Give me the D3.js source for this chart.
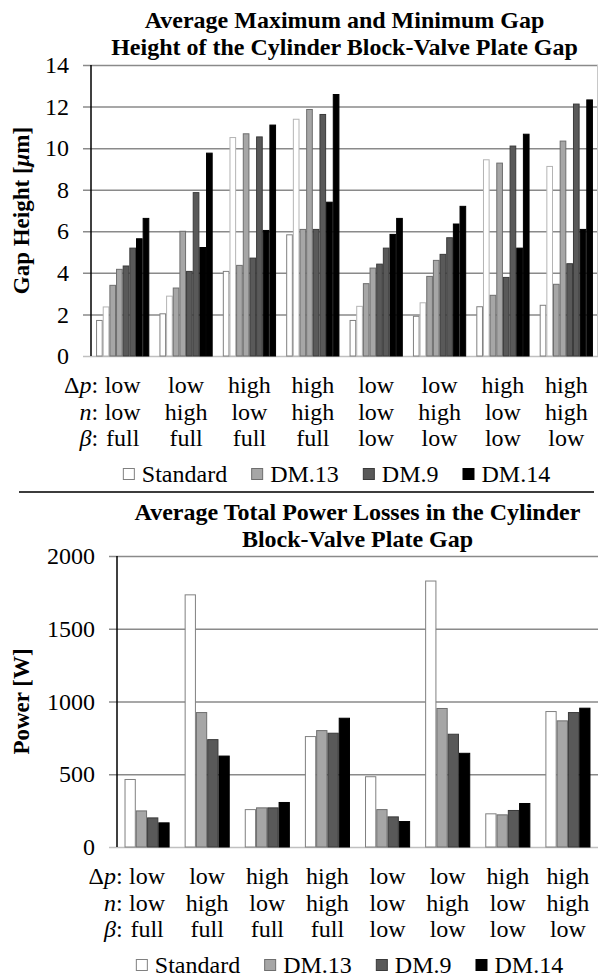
<!DOCTYPE html>
<html>
<head>
<meta charset="utf-8">
<script src="https://cdn.jsdelivr.net/npm/d3@7"></script>
<style>
  body { margin: 0; background: #fff; }
</style>
</head>
<body>
<svg id="chart" width="599" height="978" font-family="Liberation Serif, DejaVu Serif, Times New Roman, serif"></svg>
<script>
// categories
var groups = ["c1", "c2", "c3", "c4", "c5", "c6", "c7", "c8"];
var dpLabels = ["low", "low", "high", "high", "low", "low", "high", "high"];
var nLabels = ["low", "high", "low", "high", "low", "high", "low", "high"];
var betaLabels = ["full", "full", "full", "full", "low", "low", "low", "low"];
var seriesNames = ["Standard", "DM.13", "DM.9", "DM.14"];

// tick labels
var gapTicks = [0, 2, 4, 6, 8, 10, 12, 14];
var powerTicks = [0, 500, 1000, 1500, 2000];

// gap height [um], min and max per design
var stdMin  = [1.71, 2.03, 4.07, 5.83, 1.71, 1.91, 2.37, 2.44];
var stdMax  = [2.36, 2.88, 10.51, 11.39, 2.39, 2.56, 9.44, 9.12];
var dm13Min = [3.40, 3.27, 4.36, 6.09, 3.48, 3.83, 2.92, 3.45];
var dm13Max = [4.17, 6.00, 10.69, 11.86, 4.23, 4.60, 9.28, 10.34];
var dm9Min  = [4.33, 4.07, 4.71, 6.09, 4.42, 4.89, 3.78, 4.44];
var dm9Max  = [5.19, 7.86, 10.54, 11.62, 5.19, 5.69, 10.10, 12.12];
var dm14Min = [5.64, 5.22, 6.04, 7.40, 5.85, 6.35, 5.19, 6.09];
var dm14Max = [6.62, 9.76, 11.11, 12.58, 6.62, 7.20, 10.67, 12.32];

// power losses [W]
var powStd  = [464, 1733, 257, 759, 483, 1828, 228, 931];
var powDm13 = [248, 924, 269, 800, 257, 952, 221, 867];
var powDm9  = [200, 738, 269, 782, 207, 775, 251, 924];
var powDm14 = [166, 625, 306, 885, 175, 644, 299, 954];

var fills = ["#ffffff", "#a6a6a6", "#595959", "#000000"];
var strokes = ["#808080", "#6e6e6e", "#3a3a3a", "#000000"];
var serif = "Liberation Serif, DejaVu Serif, Times New Roman, serif";

var svg = d3.select("#chart");

function drawChart(cfg) {
    var g = svg.append("g");

    var x0 = d3.scaleBand().domain(groups).range([cfg.left, cfg.right])
        .paddingInner(cfg.pad).paddingOuter(cfg.pad / 2);
    var x1 = d3.scaleBand().domain(d3.range(cfg.series.length)).range([0, x0.bandwidth()]);
    var y = d3.scaleLinear().domain(cfg.domain).range([cfg.bottom, cfg.top]);

    // gridlines + tick labels
    var axis = g.append("g")
        .attr("transform", "translate(" + cfg.left + ",0)")
        .call(d3.axisLeft(y).tickValues(cfg.ticks).tickFormat(d3.format("d"))
            .tickSize(-(cfg.right - cfg.left)).tickPadding(22).tickSizeOuter(0));
    axis.attr("font-family", serif).attr("font-size", 24);
    axis.select(".domain").remove();
    axis.selectAll(".tick line")
        .attr("x1", -8)
        .attr("stroke", function(d) { return d == 0 ? "#c0c0c0" : "#8a8a8a"; })
        .attr("stroke-width", 1.5);
    axis.selectAll(".tick text").attr("fill", "#000");

    if (cfg.frame) {
        g.append("line")
            .attr("x1", cfg.right - 0.5).attr("x2", cfg.right - 0.5)
            .attr("y1", cfg.top).attr("y2", cfg.bottom)
            .attr("stroke", "#c8c8c8");
    }

    // bars
    g.append("g")
        .selectAll("g")
        .data(groups)
        .enter()
        .append("g")
        .attr("transform", function(d) { return "translate(" + x0(d) + ",0)"; })
        .selectAll("rect")
        .data(function(d, i) {
            return cfg.series.map(function(s, k) { return { k: k, v: s[i] }; });
        })
        .enter()
        .append("rect")
        .attr("x", function(d) { return x1(d.k) + 0.5; })
        .attr("y", function(d) { return y(d.v); })
        .attr("width", x1.bandwidth() - 1)
        .attr("height", function(d) { return cfg.bottom - y(d.v); })
        .attr("fill", function(d) { return fills[cfg.colorOf(d.k)]; })
        .attr("stroke", function(d) { return cfg.strokeOf(d.k); })
        .attr("stroke-width", 1);

    // y axis line
    g.append("line")
        .attr("x1", cfg.left).attr("x2", cfg.left)
        .attr("y1", cfg.top).attr("y2", cfg.bottom)
        .attr("stroke", "#000").attr("stroke-width", 1.5);

    // title
    var cx = (cfg.left + cfg.right) / 2;
    cfg.title.forEach(function(t, i) {
        g.append("text")
            .attr("x", cx).attr("y", cfg.titleY + i * 27)
            .attr("text-anchor", "middle")
            .attr("font-size", 24).attr("font-weight", "bold")
            .text(t);
    });

    // y title
    var yt = g.append("text")
        .attr("transform", "translate(29," + ((cfg.top + cfg.bottom) / 2) + ") rotate(-90)")
        .attr("text-anchor", "middle")
        .attr("font-size", 23).attr("font-weight", "bold");
    cfg.yTitle(yt);

    // category table
    var rows = [
        { pre: [["\u0394", false], ["p", true], [":", false]], labels: dpLabels },
        { pre: [["n", true], [":", false]], labels: nLabels },
        { pre: [["\u03b2", true], [":", false]], labels: betaLabels }
    ];
    var firstCenter = x0(groups[0]) + x0.bandwidth() / 2;
    rows.forEach(function(r, ri) {
        var yy = cfg.bottom + 37 + ri * 26.5;
        var pre = g.append("text")
            .attr("x", firstCenter - 24.5).attr("y", yy)
            .attr("text-anchor", "end")
            .attr("font-size", 24);
        r.pre.forEach(function(p) {
            pre.append("tspan").attr("font-style", p[1] ? "italic" : "normal").text(p[0]);
        });
        g.selectAll(null)
            .data(r.labels)
            .enter()
            .append("text")
            .attr("x", function(d, i) { return x0(groups[i]) + x0.bandwidth() / 2; })
            .attr("y", yy)
            .attr("text-anchor", "middle")
            .attr("font-size", 24)
            .text(function(d) { return d; });
    });

    // legend
    var ly = cfg.bottom + 126;
    var leg = g.append("g");
    var lx = 0;
    seriesNames.forEach(function(name, i) {
        leg.append("rect")
            .attr("x", lx + 0.5).attr("y", ly - 13.5)
            .attr("width", 11).attr("height", 11)
            .attr("fill", fills[i])
            .attr("stroke", strokes[i]);
        var t = leg.append("text")
            .attr("x", lx + 19).attr("y", ly)
            .attr("font-size", 24)
            .text(name);
        lx += 19 + t.node().getComputedTextLength() + 24;
    });
    lx -= 24;
    leg.attr("transform", "translate(" + (cx - 8 - lx / 2) + ",0)");
}

drawChart({
    left: 91, right: 598, top: 65, bottom: 356,
    domain: [0, 14], ticks: gapTicks, pad: 0.16, frame: true,
    series: [stdMin, stdMax, dm13Min, dm13Max, dm9Min, dm9Max, dm14Min, dm14Max],
    colorOf: function(k) { return Math.floor(k / 2); },
    strokeOf: function(k) { return k == 1 ? "#b4b4b4" : strokes[Math.floor(k / 2)]; },
    title: ["Average Maximum and Minimum Gap", "Height of the Cylinder Block-Valve Plate Gap"],
    titleY: 28,
    yTitle: function(t) {
        t.append("tspan").text("Gap Height [");
        t.append("tspan").attr("font-style", "italic").text("\u03bc");
        t.append("tspan").text("m]");
    }
});

// separator
svg.append("line")
    .attr("x1", 19).attr("x2", 594)
    .attr("y1", 492).attr("y2", 492)
    .attr("stroke", "#3c3c3c").attr("stroke-width", 2);

drawChart({
    left: 117, right: 598, top: 556, bottom: 847,
    domain: [0, 2000], ticks: powerTicks, pad: 0.25, frame: false,
    series: [powStd, powDm13, powDm9, powDm14],
    colorOf: function(k) { return k; },
    strokeOf: function(k) { return strokes[k]; },
    title: ["Average Total Power Losses in the Cylinder", "Block-Valve Plate Gap"],
    titleY: 520,
    yTitle: function(t) { t.text("Power [W]"); }
});
</script>
</body>
</html>
